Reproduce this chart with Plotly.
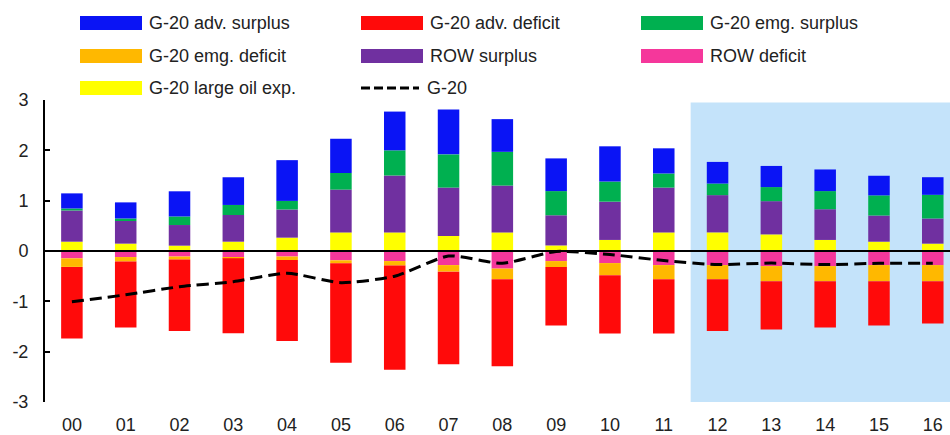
import plotly.graph_objects as go

years = ['00', '01', '02', '03', '04', '05', '06', '07', '08', '09', '10', '11', '12', '13', '14', '15', '16']

oil_exp = [0.185, 0.146, 0.106, 0.185, 0.265, 0.37, 0.37, 0.30, 0.37, 0.11, 0.22, 0.37, 0.37, 0.33, 0.22, 0.185, 0.146]
row_surplus = [0.62, 0.45, 0.41, 0.53, 0.56, 0.85, 1.13, 0.96, 0.93, 0.60, 0.76, 0.89, 0.74, 0.66, 0.61, 0.52, 0.50]
emg_surplus = [0.04, 0.05, 0.17, 0.20, 0.17, 0.33, 0.50, 0.66, 0.67, 0.48, 0.40, 0.28, 0.23, 0.28, 0.36, 0.40, 0.47]
adv_surplus = [0.30, 0.32, 0.50, 0.55, 0.81, 0.68, 0.77, 0.89, 0.65, 0.65, 0.70, 0.50, 0.43, 0.42, 0.43, 0.39, 0.35]
row_deficit = [-0.146, -0.12, -0.11, -0.13, -0.11, -0.185, -0.20, -0.28, -0.35, -0.20, -0.24, -0.28, -0.28, -0.30, -0.30, -0.28, -0.28]
emg_deficit = [-0.17, -0.09, -0.06, -0.016, -0.07, -0.06, -0.09, -0.13, -0.21, -0.12, -0.24, -0.28, -0.28, -0.30, -0.30, -0.32, -0.32]
adv_deficit = [-1.42, -1.31, -1.42, -1.49, -1.61, -1.975, -2.07, -1.84, -1.73, -1.16, -1.16, -1.08, -1.03, -0.96, -0.92, -0.88, -0.84]
g20_total = [-1.01, -0.87, -0.71, -0.61, -0.44, -0.63, -0.50, -0.10, -0.245, -0.01, -0.07, -0.19, -0.27, -0.24, -0.27, -0.245, -0.245]

y_ticks = [-3, -2, -1, 0, 1, 2, 3]
y_tick_labels = ['-3', '-2', '-1', '0', '1', '2', '3']

C_BLUE = '#0A14F5'
C_RED = '#FF0A0A'
C_GREEN = '#00B050'
C_ORANGE = '#FFB800'
C_PURPLE = '#7030A0'
C_PINK = '#F5379B'
C_YELLOW = '#FFFF00'
C_SHADE = '#C4E3FA'

FONT = 'Liberation Sans, Arial, sans-serif'
TXT = '#222222'

W, H = 950, 435
L, R, T, B = 45, 0, 100, 33
X_END = 16.32

fig = go.Figure()

bar_series = [
    ('G-20 large oil exp.', oil_exp, C_YELLOW),
    ('ROW surplus', row_surplus, C_PURPLE),
    ('G-20 emg. surplus', emg_surplus, C_GREEN),
    ('G-20 adv. surplus', adv_surplus, C_BLUE),
    ('ROW deficit', row_deficit, C_PINK),
    ('G-20 emg. deficit', emg_deficit, C_ORANGE),
    ('G-20 adv. deficit', adv_deficit, C_RED),
]
for name, vals, col in bar_series:
    fig.add_trace(go.Bar(x=years, y=vals, name=name, marker=dict(color=col, line=dict(width=0)),
                         width=0.4, showlegend=False))

fig.add_trace(go.Scatter(x=years, y=g20_total, name='G-20', mode='lines',
                         line=dict(color='black', width=3, dash='12px,6px', shape='spline', smoothing=0.6),
                         showlegend=False))

shapes = []
# forecast shading
shapes.append(dict(type='rect', xref='x', yref='y', x0=11.5, x1=X_END + 0.5, y0=-3, y1=2.95,
                   fillcolor=C_SHADE, line=dict(width=0), layer='below'))
# zero line
shapes.append(dict(type='line', xref='paper', yref='y', x0=0, x1=1, y0=0, y1=0,
                   line=dict(color='black', width=2), layer='above'))

# custom legend (pixel -> paper conversion)
pw = W - L - R
ph = H - T - B


def px(xp):
    return (xp - L) / pw


def py(yp):
    return (H - B - yp) / ph


legend_items = [
    ('G-20 adv. surplus', C_BLUE, 0, 0),
    ('G-20 adv. deficit', C_RED, 1, 0),
    ('G-20 emg. surplus', C_GREEN, 2, 0),
    ('G-20 emg. deficit', C_ORANGE, 0, 1),
    ('ROW surplus', C_PURPLE, 1, 1),
    ('ROW deficit', C_PINK, 2, 1),
    ('G-20 large oil exp.', C_YELLOW, 0, 2),
    ('G-20', None, 1, 2),
]
col_x = [80, 361, 641]
row_y = [23, 56, 88]
sw_w, sw_h = 62, 14
annotations = []
for label, col, c, r in legend_items:
    x0 = col_x[c]
    yc = row_y[r]
    if col is not None:
        shapes.append(dict(type='rect', xref='paper', yref='paper', x0=px(x0), x1=px(x0 + sw_w),
                           y0=py(yc + sw_h / 2), y1=py(yc - sw_h / 2), fillcolor=col, line=dict(width=0)))
        tx = x0 + sw_w + 5
    else:
        shapes.append(dict(type='line', xref='paper', yref='paper', x0=px(x0), x1=px(x0 + 58),
                           y0=py(yc), y1=py(yc), line=dict(color='black', width=3, dash='9px,4px')))
        tx = x0 + 64
    annotations.append(dict(xref='paper', yref='paper', x=px(tx), y=py(yc), text=label, showarrow=False,
                            xanchor='left', yanchor='middle', font=dict(family=FONT, size=18, color=TXT)))

fig.update_layout(
    width=W, height=H,
    margin=dict(l=L, r=R, t=T, b=B, pad=0, autoexpand=False),
    barmode='relative',
    bargap=0.6,
    plot_bgcolor='white', paper_bgcolor='white',
    shapes=shapes, annotations=annotations,
    font=dict(family=FONT, size=18, color=TXT),
    xaxis=dict(type='category', range=[-0.5, X_END], showgrid=False, zeroline=False, showline=False,
               ticks='', tickfont=dict(size=18, color=TXT), ticklabelstandoff=10, automargin=False),
    yaxis=dict(range=[-3, 3], tickvals=y_ticks, ticktext=y_tick_labels, showgrid=False, zeroline=False,
               showline=True, linecolor='black', linewidth=2, ticks='inside', ticklen=5, tickwidth=2,
               tickcolor='black', tickfont=dict(size=18, color=TXT), ticklabelstandoff=11, automargin=False),
)

fig.write_html('out.html', config={'displayModeBar': False},
               post_script="document.body.style.margin='0';document.body.style.padding='0';")
